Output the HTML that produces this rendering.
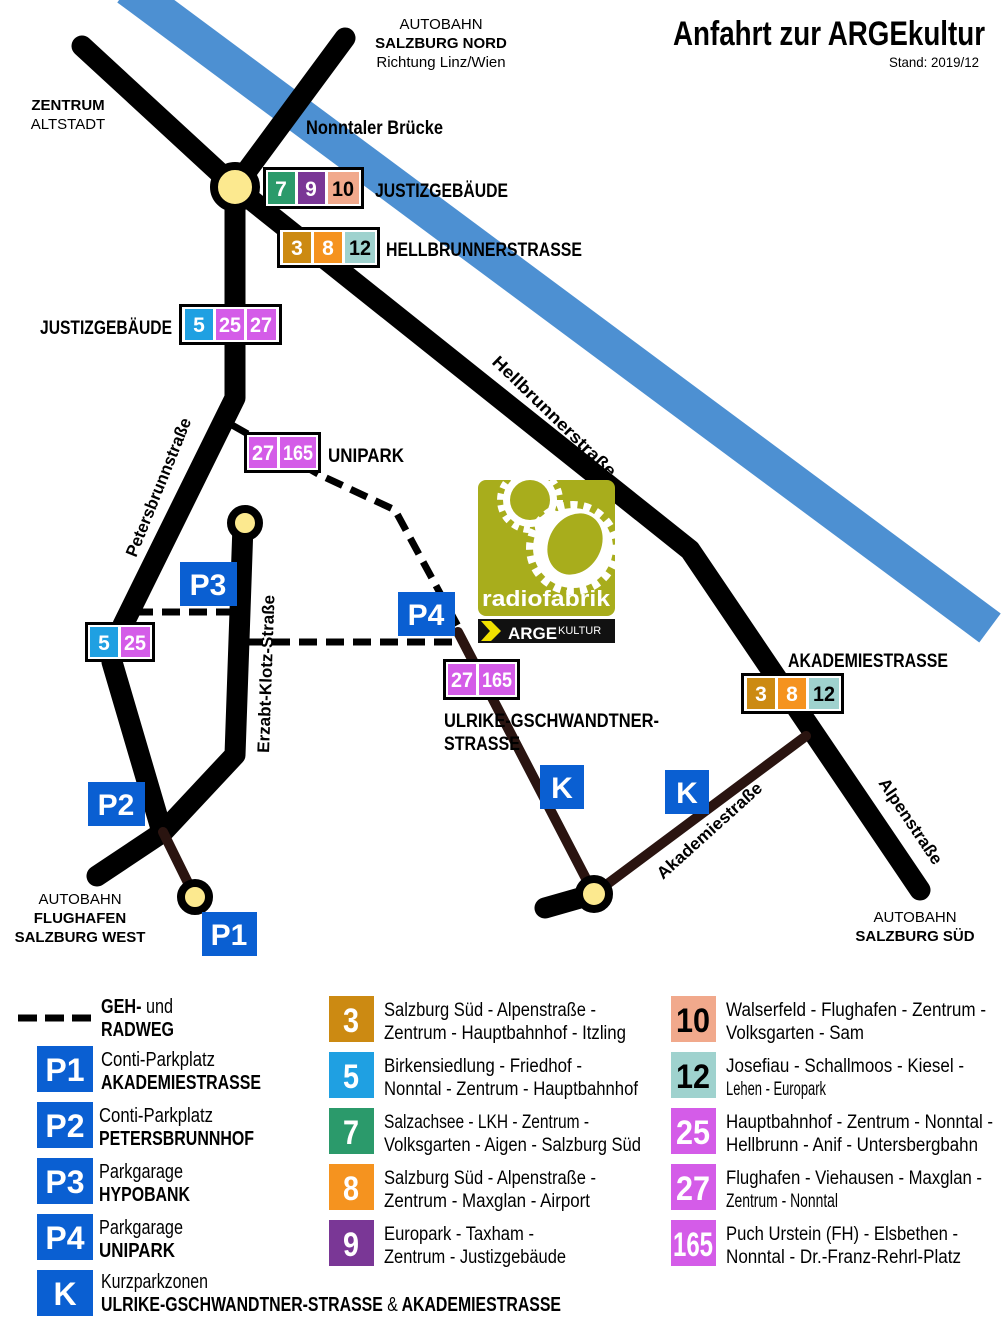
<!DOCTYPE html>
<html><head><meta charset="utf-8"><style>
html,body{margin:0;padding:0;background:#fff}
svg{display:block}
text{font-family:"Liberation Sans Narrow","Liberation Sans",sans-serif}
.b{font-weight:bold}
.w{fill:#fff}
</style></head><body>
<svg width="1008" height="1333" viewBox="0 0 1008 1333" xmlns="http://www.w3.org/2000/svg">
<!-- river -->
<line x1="128" y1="-12" x2="990" y2="628" stroke="#4d90d2" stroke-width="36"/>
<text x="520" y="300" transform="rotate(36 580 330)" font-size="30" fill="#fff" style="font-family:'Liberation Sans',sans-serif" textLength="120" lengthAdjust="spacingAndGlyphs">SALZACH</text>

<!-- dashed paths -->
<g stroke="#000" stroke-width="7" fill="none" stroke-dasharray="18,9">
<polyline points="232,425 320,475 395,510 460,630"/>
<line x1="135" y1="612" x2="240" y2="612"/>
<line x1="245" y1="642" x2="462" y2="642"/>
</g>

<!-- roads -->
<g stroke="#000" stroke-width="21" fill="none" stroke-linecap="round" stroke-linejoin="round">
<line x1="82" y1="46" x2="235" y2="187"/>
<line x1="345" y1="38" x2="235" y2="187"/>
<polyline points="235,187 690,550 920,890"/>
<polyline points="235,187 235,398 123,625 112,662 162,832"/>
<polyline points="97,876 163,832 235,755 243,525"/>
<line x1="545" y1="908" x2="594" y2="894"/>
</g>
<g stroke="#2a1410" stroke-width="10" fill="none" stroke-linecap="round">
<line x1="163" y1="832" x2="195" y2="897"/>
<line x1="458" y1="632" x2="594" y2="894"/>
<line x1="594" y1="894" x2="806" y2="736"/>
</g>
<g stroke="#000" stroke-width="8" fill="#fce98f">
<circle cx="235" cy="187" r="21"/>
<circle cx="245" cy="523" r="14"/>
<circle cx="195" cy="897" r="14"/>
<circle cx="594" cy="894" r="15"/>
</g>

<!-- badges -->
<g font-size="21" class="b">
<rect x="263" y="167" width="101" height="42" fill="#000"/><rect x="266" y="170" width="95" height="36" fill="#fff"/>
<rect x="268" y="172" width="27" height="32" fill="#2b9a6b"/><rect x="298" y="172" width="27" height="32" fill="#7a3796"/><rect x="328" y="172" width="31" height="32" fill="#f1a98c"/>
<text x="281" y="196" text-anchor="middle" class="w">7</text><text x="311" y="196" text-anchor="middle" class="w">9</text><text x="343" y="196" text-anchor="middle" textLength="22" lengthAdjust="spacingAndGlyphs">10</text>

<rect x="277" y="227" width="103" height="41" fill="#000"/><rect x="280" y="230" width="97" height="35" fill="#fff"/>
<rect x="283" y="232" width="28" height="31" fill="#cc8a12"/><rect x="314" y="232" width="28" height="31" fill="#f5931f"/><rect x="345" y="232" width="30" height="31" fill="#9fd2ce"/>
<text x="297" y="255" text-anchor="middle" class="w">3</text><text x="328" y="255" text-anchor="middle" class="w">8</text><text x="360" y="255" text-anchor="middle" textLength="22" lengthAdjust="spacingAndGlyphs">12</text>

<rect x="179" y="304" width="103" height="41" fill="#000"/><rect x="182" y="307" width="97" height="35" fill="#fff"/>
<rect x="185" y="309" width="28" height="31" fill="#1fa0e2"/><rect x="216" y="309" width="28" height="31" fill="#d45ce8"/><rect x="247" y="309" width="29" height="31" fill="#d45ce8"/>
<text x="199" y="332" text-anchor="middle" class="w">5</text><text x="230" y="332" text-anchor="middle" class="w" textLength="22" lengthAdjust="spacingAndGlyphs">25</text><text x="261" y="332" text-anchor="middle" class="w" textLength="22" lengthAdjust="spacingAndGlyphs">27</text>

<rect x="244" y="432" width="77" height="41" fill="#000"/><rect x="247" y="435" width="71" height="35" fill="#fff"/>
<rect x="249" y="437" width="28" height="31" fill="#d45ce8"/><rect x="280" y="437" width="36" height="31" fill="#d45ce8"/>
<text x="263" y="460" text-anchor="middle" class="w" textLength="22" lengthAdjust="spacingAndGlyphs">27</text><text x="298" y="460" text-anchor="middle" class="w" textLength="30" lengthAdjust="spacingAndGlyphs">165</text>

<rect x="85" y="622" width="70" height="40" fill="#000"/><rect x="88" y="625" width="64" height="34" fill="#fff"/>
<rect x="90" y="627" width="28" height="30" fill="#1fa0e2"/><rect x="121" y="627" width="29" height="30" fill="#d45ce8"/>
<text x="104" y="650" text-anchor="middle" class="w">5</text><text x="135" y="650" text-anchor="middle" class="w" textLength="22" lengthAdjust="spacingAndGlyphs">25</text>

<rect x="443" y="659" width="77" height="41" fill="#000"/><rect x="446" y="662" width="71" height="35" fill="#fff"/>
<rect x="448" y="664" width="28" height="31" fill="#d45ce8"/><rect x="479" y="664" width="36" height="31" fill="#d45ce8"/>
<text x="462" y="687" text-anchor="middle" class="w" textLength="22" lengthAdjust="spacingAndGlyphs">27</text><text x="497" y="687" text-anchor="middle" class="w" textLength="30" lengthAdjust="spacingAndGlyphs">165</text>

<rect x="741" y="673" width="103" height="41" fill="#000"/><rect x="744" y="676" width="97" height="35" fill="#fff"/>
<rect x="747" y="678" width="28" height="31" fill="#cc8a12"/><rect x="778" y="678" width="28" height="31" fill="#f5931f"/><rect x="809" y="678" width="30" height="31" fill="#9fd2ce"/>
<text x="761" y="701" text-anchor="middle" class="w">3</text><text x="792" y="701" text-anchor="middle" class="w">8</text><text x="824" y="701" text-anchor="middle" textLength="22" lengthAdjust="spacingAndGlyphs">12</text>
</g>

<!-- parking signs on map -->
<g font-weight="bold" font-size="30" fill="#fff">
<rect x="180" y="562" width="57" height="44" fill="#0a5fd2"/><text x="208" y="595" text-anchor="middle" style="font-family:'Liberation Sans',sans-serif">P3</text>
<rect x="398" y="592" width="57" height="44" fill="#0a5fd2"/><text x="426" y="625" text-anchor="middle" style="font-family:'Liberation Sans',sans-serif">P4</text>
<rect x="88" y="782" width="57" height="44" fill="#0a5fd2"/><text x="116" y="815" text-anchor="middle" style="font-family:'Liberation Sans',sans-serif">P2</text>
<rect x="202" y="912" width="55" height="44" fill="#0a5fd2"/><text x="229" y="945" text-anchor="middle" style="font-family:'Liberation Sans',sans-serif">P1</text>
<rect x="540" y="765" width="44" height="44" fill="#0a5fd2"/><text x="562" y="798" text-anchor="middle" style="font-family:'Liberation Sans',sans-serif">K</text>
<rect x="665" y="770" width="44" height="44" fill="#0a5fd2"/><text x="687" y="803" text-anchor="middle" style="font-family:'Liberation Sans',sans-serif">K</text>
</g>

<!-- logo -->
<rect x="478" y="480" width="137" height="136" rx="8" fill="#a8ad1c"/>
<circle cx="530" cy="500" r="28" fill="none" stroke="#fff" stroke-width="10" stroke-dasharray="6,5"/>
<circle cx="530" cy="500" r="27" fill="#fff"/><circle cx="530" cy="500" r="20" fill="#a8ad1c"/>
<circle cx="573" cy="548" r="42" fill="none" stroke="#fff" stroke-width="10" stroke-dasharray="7,6"/>
<circle cx="573" cy="548" r="40" fill="#fff"/><ellipse cx="575" cy="544" rx="26" ry="32" transform="rotate(30 575 544)" fill="#a8ad1c"/>
<text x="482" y="606" font-size="22" fill="#fff" class="b" style="font-family:'Liberation Sans',sans-serif" textLength="128" lengthAdjust="spacingAndGlyphs">radiofabrik</text>
<rect x="478" y="619" width="137" height="24" fill="#111"/>
<polygon points="481,621 491,621 501,631 491,641 481,641 490,631" fill="#f0e000"/>
<text x="508" y="639" font-size="17" fill="#fff" class="b" style="font-family:'Liberation Sans',sans-serif">ARGE</text>
<text x="558" y="634" font-size="11" fill="#fff" style="font-family:'Liberation Sans',sans-serif">KULTUR</text>

<!-- map labels -->
<g font-size="19" class="b">
<text x="673" y="45" font-size="34" textLength="312" lengthAdjust="spacingAndGlyphs">Anfahrt zur ARGEkultur</text>
<text x="979" y="67" font-size="14" font-weight="normal" text-anchor="end" textLength="90" lengthAdjust="spacingAndGlyphs">Stand: 2019/12</text>
<text x="306" y="134" textLength="137" lengthAdjust="spacingAndGlyphs">Nonntaler Brücke</text>
<text x="375" y="197" textLength="133" lengthAdjust="spacingAndGlyphs">JUSTIZGEBÄUDE</text>
<text x="386" y="256" textLength="196" lengthAdjust="spacingAndGlyphs">HELLBRUNNERSTRASSE</text>
<text x="40" y="334" textLength="132" lengthAdjust="spacingAndGlyphs">JUSTIZGEBÄUDE</text>
<text x="328" y="462" textLength="76" lengthAdjust="spacingAndGlyphs">UNIPARK</text>
<text x="788" y="667" textLength="160" lengthAdjust="spacingAndGlyphs">AKADEMIESTRASSE</text>
<text x="444" y="727" textLength="215" lengthAdjust="spacingAndGlyphs">ULRIKE-GSCHWANDTNER-</text>
<text x="444" y="750" textLength="76" lengthAdjust="spacingAndGlyphs">STRASSE</text>
<text x="0" y="0" font-size="17" transform="translate(491,363) rotate(44)" textLength="165" lengthAdjust="spacingAndGlyphs">Hellbrunnerstraße</text>
<text x="0" y="0" font-size="17" transform="translate(136,558) rotate(-68)" textLength="148" lengthAdjust="spacingAndGlyphs">Petersbrunnstraße</text>
<text x="0" y="0" font-size="17" transform="translate(269,753) rotate(-88)" textLength="158" lengthAdjust="spacingAndGlyphs">Erzabt-Klotz-Straße</text>
<text x="0" y="0" font-size="17" transform="translate(663,880) rotate(-42)" textLength="135" lengthAdjust="spacingAndGlyphs">Akademiestraße</text>
<text x="0" y="0" font-size="17" transform="translate(878,783) rotate(56)" textLength="100" lengthAdjust="spacingAndGlyphs">Alpenstraße</text>
</g>
<g font-size="15" text-anchor="middle">
<text x="441" y="29" style="font-family:'Liberation Sans',sans-serif">AUTOBAHN</text>
<text x="441" y="48" font-weight="bold" style="font-family:'Liberation Sans',sans-serif">SALZBURG NORD</text>
<text x="441" y="67" style="font-family:'Liberation Sans',sans-serif">Richtung Linz/Wien</text>
<text x="68" y="110" font-weight="bold" style="font-family:'Liberation Sans',sans-serif">ZENTRUM</text>
<text x="68" y="129" style="font-family:'Liberation Sans',sans-serif">ALTSTADT</text>
<text x="80" y="904" style="font-family:'Liberation Sans',sans-serif">AUTOBAHN</text>
<text x="80" y="923" font-weight="bold" style="font-family:'Liberation Sans',sans-serif">FLUGHAFEN</text>
<text x="80" y="942" font-weight="bold" style="font-family:'Liberation Sans',sans-serif">SALZBURG WEST</text>
<text x="915" y="922" style="font-family:'Liberation Sans',sans-serif">AUTOBAHN</text>
<text x="915" y="941" font-weight="bold" style="font-family:'Liberation Sans',sans-serif">SALZBURG SÜD</text>
</g>

<!-- legend left -->
<line x1="18" y1="1018" x2="93" y2="1018" stroke="#000" stroke-width="7" stroke-dasharray="19,8"/>
<g font-size="20">
<text x="101" y="1013" class="b" textLength="72" lengthAdjust="spacingAndGlyphs">GEH- <tspan font-weight="normal">und</tspan></text>
<text x="101" y="1036" class="b" textLength="73" lengthAdjust="spacingAndGlyphs">RADWEG</text>
</g>
<g font-weight="bold" font-size="32" fill="#fff">
<rect x="37" y="1046" width="56" height="46" fill="#0a5fd2"/><text x="65" y="1081" text-anchor="middle" style="font-family:'Liberation Sans',sans-serif">P1</text>
<rect x="37" y="1102" width="56" height="46" fill="#0a5fd2"/><text x="65" y="1137" text-anchor="middle" style="font-family:'Liberation Sans',sans-serif">P2</text>
<rect x="37" y="1158" width="56" height="46" fill="#0a5fd2"/><text x="65" y="1193" text-anchor="middle" style="font-family:'Liberation Sans',sans-serif">P3</text>
<rect x="37" y="1214" width="56" height="46" fill="#0a5fd2"/><text x="65" y="1249" text-anchor="middle" style="font-family:'Liberation Sans',sans-serif">P4</text>
<rect x="37" y="1270" width="56" height="46" fill="#0a5fd2"/><text x="65" y="1305" text-anchor="middle" style="font-family:'Liberation Sans',sans-serif">K</text>
</g>
<g font-size="20">
<text x="101" y="1066" textLength="114" lengthAdjust="spacingAndGlyphs">Conti-Parkplatz</text>
<text x="101" y="1089" class="b" textLength="160" lengthAdjust="spacingAndGlyphs">AKADEMIESTRASSE</text>
<text x="99" y="1122" textLength="114" lengthAdjust="spacingAndGlyphs">Conti-Parkplatz</text>
<text x="99" y="1145" class="b" textLength="155" lengthAdjust="spacingAndGlyphs">PETERSBRUNNHOF</text>
<text x="99" y="1178" textLength="84" lengthAdjust="spacingAndGlyphs">Parkgarage</text>
<text x="99" y="1201" class="b" textLength="91" lengthAdjust="spacingAndGlyphs">HYPOBANK</text>
<text x="99" y="1234" textLength="84" lengthAdjust="spacingAndGlyphs">Parkgarage</text>
<text x="99" y="1257" class="b" textLength="76" lengthAdjust="spacingAndGlyphs">UNIPARK</text>
<text x="101" y="1288" textLength="107" lengthAdjust="spacingAndGlyphs">Kurzparkzonen</text>
<text x="101" y="1311" class="b" textLength="460" lengthAdjust="spacingAndGlyphs">ULRIKE-GSCHWANDTNER-STRASSE <tspan font-weight="normal">&amp;</tspan> AKADEMIESTRASSE</text>
</g>

<!-- legend lines -->
<g font-size="34" class="b" text-anchor="middle">
<rect x="329" y="996" width="45" height="46" fill="#cc8a12"/><text x="351" y="1032" class="w" textLength="16" lengthAdjust="spacingAndGlyphs">3</text>
<rect x="329" y="1052" width="45" height="46" fill="#1fa0e2"/><text x="351" y="1088" class="w" textLength="16" lengthAdjust="spacingAndGlyphs">5</text>
<rect x="329" y="1108" width="45" height="46" fill="#2b9a6b"/><text x="351" y="1144" class="w" textLength="16" lengthAdjust="spacingAndGlyphs">7</text>
<rect x="329" y="1164" width="45" height="46" fill="#f5931f"/><text x="351" y="1200" class="w" textLength="16" lengthAdjust="spacingAndGlyphs">8</text>
<rect x="329" y="1220" width="45" height="46" fill="#7a3796"/><text x="351" y="1256" class="w" textLength="16" lengthAdjust="spacingAndGlyphs">9</text>
<rect x="671" y="996" width="45" height="46" fill="#f1a98c"/><text x="693" y="1032" textLength="34" lengthAdjust="spacingAndGlyphs">10</text>
<rect x="671" y="1052" width="45" height="46" fill="#9fd2ce"/><text x="693" y="1088" textLength="34" lengthAdjust="spacingAndGlyphs">12</text>
<rect x="671" y="1108" width="45" height="46" fill="#d45ce8"/><text x="693" y="1144" class="w" textLength="34" lengthAdjust="spacingAndGlyphs">25</text>
<rect x="671" y="1164" width="45" height="46" fill="#d45ce8"/><text x="693" y="1200" class="w" textLength="34" lengthAdjust="spacingAndGlyphs">27</text>
<rect x="671" y="1220" width="45" height="46" fill="#d45ce8"/><text x="693" y="1256" class="w" textLength="40" lengthAdjust="spacingAndGlyphs">165</text>
</g>
<g font-size="19">
<text x="384" y="1016" textLength="212" lengthAdjust="spacingAndGlyphs">Salzburg Süd - Alpenstraße -</text>
<text x="384" y="1039" textLength="242" lengthAdjust="spacingAndGlyphs">Zentrum - Hauptbahnhof - Itzling</text>
<text x="384" y="1072" textLength="198" lengthAdjust="spacingAndGlyphs">Birkensiedlung - Friedhof -</text>
<text x="384" y="1095" textLength="254" lengthAdjust="spacingAndGlyphs">Nonntal - Zentrum - Hauptbahnhof</text>
<text x="384" y="1128" textLength="205" lengthAdjust="spacingAndGlyphs">Salzachsee - LKH - Zentrum -</text>
<text x="384" y="1151" textLength="257" lengthAdjust="spacingAndGlyphs">Volksgarten - Aigen - Salzburg Süd</text>
<text x="384" y="1184" textLength="212" lengthAdjust="spacingAndGlyphs">Salzburg Süd - Alpenstraße -</text>
<text x="384" y="1207" textLength="206" lengthAdjust="spacingAndGlyphs">Zentrum - Maxglan - Airport</text>
<text x="384" y="1240" textLength="150" lengthAdjust="spacingAndGlyphs">Europark - Taxham -</text>
<text x="384" y="1263" textLength="182" lengthAdjust="spacingAndGlyphs">Zentrum - Justizgebäude</text>
<text x="726" y="1016" textLength="260" lengthAdjust="spacingAndGlyphs">Walserfeld - Flughafen - Zentrum -</text>
<text x="726" y="1039" textLength="138" lengthAdjust="spacingAndGlyphs">Volksgarten - Sam</text>
<text x="726" y="1072" textLength="238" lengthAdjust="spacingAndGlyphs">Josefiau - Schallmoos - Kiesel -</text>
<text x="726" y="1095" textLength="100" lengthAdjust="spacingAndGlyphs">Lehen - Europark</text>
<text x="726" y="1128" textLength="267" lengthAdjust="spacingAndGlyphs">Hauptbahnhof - Zentrum - Nonntal -</text>
<text x="726" y="1151" textLength="252" lengthAdjust="spacingAndGlyphs">Hellbrunn - Anif - Untersbergbahn</text>
<text x="726" y="1184" textLength="256" lengthAdjust="spacingAndGlyphs">Flughafen - Viehausen - Maxglan -</text>
<text x="726" y="1207" textLength="112" lengthAdjust="spacingAndGlyphs">Zentrum - Nonntal</text>
<text x="726" y="1240" textLength="232" lengthAdjust="spacingAndGlyphs">Puch Urstein (FH) - Elsbethen -</text>
<text x="726" y="1263" textLength="235" lengthAdjust="spacingAndGlyphs">Nonntal - Dr.-Franz-Rehrl-Platz</text>
</g>
</svg>
</body></html>
